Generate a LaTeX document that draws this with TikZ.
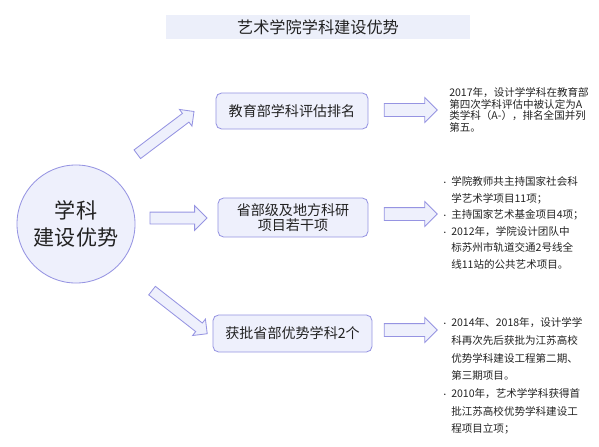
\documentclass[tikz,border=0pt]{standalone}
\usepackage{fontspec}
\setmainfont{Noto Sans CJK SC}
\usetikzlibrary{shapes.arrows}
\definecolor{lavfill}{RGB}{238,240,252}
\definecolor{lavline}{RGB}{150,148,226}
\definecolor{titlefill}{RGB}{236,239,250}
\definecolor{inktext}{RGB}{34,34,34}
\newcommand{\dotmark}{\makebox[0.25cm][l]{\fontsize{5}{5}\selectfont •}}

\begin{document}
\begin{tikzpicture}[
    x=0.025cm, y=-0.025cm,
    title/.style={fill=titlefill, minimum width=7.6cm, minimum height=0.6cm, font=\fontsize{11.5}{12}\selectfont, text=inktext},
    hub/.style={circle, draw=lavline, fill=lavfill, line width=0.6pt, minimum size=2.95cm, align=center, font=\fontsize{15}{19}\selectfont, text=inktext},
    item/.style={draw=lavline, fill=lavfill, line width=0.6pt, rectangle, rounded corners=4pt, minimum height=0.9cm, align=center, font=\fontsize{10}{10.8}\selectfont, text=inktext},
    note/.style={anchor=north west, inner sep=0pt, align=left, text=inktext},
    bigarrow/.style={single arrow, draw=lavline, fill=lavfill, line width=0.6pt, inner sep=0pt, inner ysep=0.15cm, single arrow head extend=0.15cm, single arrow tip angle=90, minimum height=1.325cm}
]
\useasboundingbox (0,0) rectangle (599,447);

% title
\node[title] (head) at (318, 27) {艺术学院学科建设优势};

% hub
\node[hub] (hub) at (76, 224) {学科\\建设优势};

% three branches
\node[item, minimum width=3.8cm] (b1) at (292, 111) {教育部学科评估排名};
\node[item, minimum width=3.75cm, minimum height=0.975cm] (b2) at (293, 217.5) {省部级及地方科研\\项目若干项};
\node[item, minimum width=3.975cm, minimum height=0.925cm] (b3) at (292.5, 333.5) {获批省部优势学科2个};

% arrows from hub
\node[bigarrow, rotate=37, inner ysep=0.125cm, single arrow head extend=0.125cm, minimum height=1.775cm] (a1) at (163.5, 134.5) {};
\node[bigarrow, inner ysep=0.1375cm, single arrow head extend=0.16cm, minimum height=1.425cm] (a2) at (175.5, 218) {};
\node[bigarrow, rotate=-38, inner ysep=0.125cm, single arrow head extend=0.125cm, minimum height=1.75cm] (a3) at (177.5, 310.5) {};

% arrows to notes
\node[bigarrow] (c1) at (407.5, 110) {};
\node[bigarrow] (c2) at (407.5, 214) {};
\node[bigarrow] (c3) at (407.5, 330) {};

% notes
\node[note, font=\fontsize{7.5}{8.2}\selectfont] (n1) at (449, 87.5) {2017年，设计学学科在教育部\\第四次学科评估中被认定为A\\类学科（A-），排名全国并列\\第五。};
\node[note, font=\fontsize{7.5}{11.7}\selectfont] (n2) at (441, 174) {\begin{tabular}{@{}l@{}l@{}}
\dotmark & 学院教师共主持国家社会科\\
 & 学艺术学项目11项；\\
\dotmark & 主持国家艺术基金项目4项；\\
\dotmark & 2012年，学院设计团队中\\
 & 标苏州市轨道交通2号线全\\
 & 线11站的公共艺术项目。
\end{tabular}};
\node[note, font=\fontsize{7.5}{12.6}\selectfont] (n3) at (441, 314) {\begin{tabular}{@{}l@{}l@{}}
\dotmark & 2014年、2018年，设计学学\\
 & 科再次先后获批为江苏高校\\
 & 优势学科建设工程第二期、\\
 & 第三期项目。\\
\dotmark & 2010年，艺术学学科获得首\\
 & 批江苏高校优势学科建设工\\
 & 程项目立项；
\end{tabular}};

\end{tikzpicture}
\end{document}
